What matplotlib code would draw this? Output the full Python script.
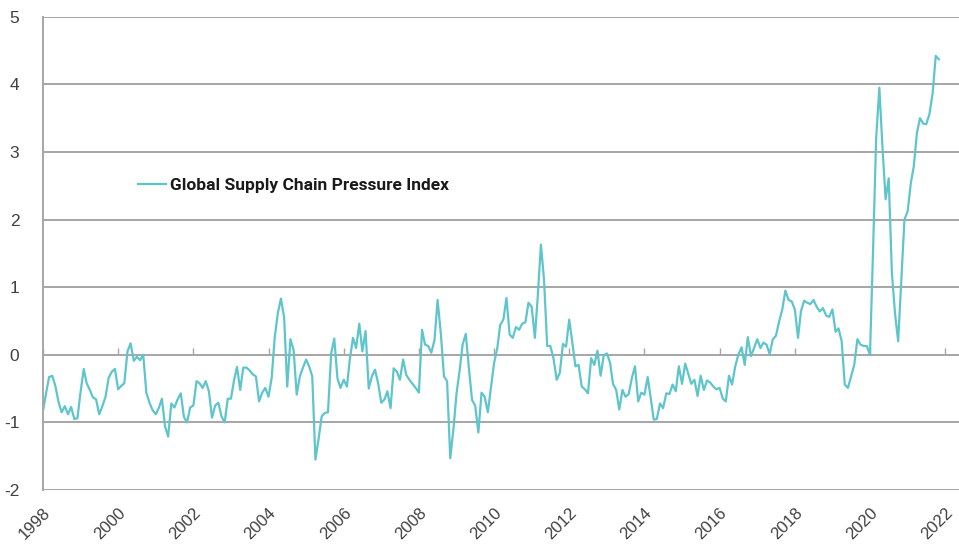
import matplotlib
matplotlib.use("Agg")
import matplotlib.pyplot as plt
import matplotlib.transforms as mtransforms
import pandas as pd

plt.rcParams["axes.unicode_minus"] = False

# monthly GSCPI readings, Jan 1998 .. Nov 2021
gscpi = [
    -0.83, -0.56, -0.33, -0.31, -0.46, -0.70, -0.85, -0.76, -0.88, -0.77, -0.95, -0.94,  # 1998
    -0.55, -0.21, -0.42, -0.52, -0.63, -0.66, -0.88, -0.76, -0.62, -0.34, -0.25, -0.21,  # 1999
    -0.51, -0.46, -0.42, 0.05, 0.17, -0.09, -0.03, -0.08, 0.00, -0.56, -0.71, -0.82,     # 2000
    -0.88, -0.78, -0.65, -1.06, -1.21, -0.72, -0.78, -0.66, -0.57, -0.92, -1.00, -0.78,  # 2001
    -0.75, -0.39, -0.42, -0.49, -0.39, -0.54, -0.93, -0.75, -0.71, -0.91, -1.00, -0.65,  # 2002
    -0.65, -0.37, -0.18, -0.52, -0.19, -0.19, -0.23, -0.29, -0.32, -0.69, -0.56, -0.49,  # 2003
    -0.62, -0.34, 0.25, 0.62, 0.83, 0.55, -0.47, 0.23, 0.07, -0.59, -0.32, -0.19,        # 2004
    -0.07, -0.18, -0.32, -1.55, -1.25, -0.91, -0.86, -0.85, 0.02, 0.24, -0.35, -0.49,    # 2005
    -0.37, -0.47, -0.07, 0.25, 0.10, 0.46, 0.05, 0.35, -0.50, -0.32, -0.22, -0.42,       # 2006
    -0.71, -0.66, -0.54, -0.79, -0.20, -0.25, -0.37, -0.07, -0.30, -0.37, -0.43, -0.49,  # 2007
    -0.56, 0.37, 0.15, 0.13, 0.03, 0.22, 0.81, 0.32, -0.32, -0.39, -1.53, -1.11,         # 2008
    -0.57, -0.22, 0.15, 0.31, -0.20, -0.67, -0.75, -1.15, -0.56, -0.62, -0.85, -0.49,    # 2009
    -0.12, 0.10, 0.44, 0.52, 0.84, 0.30, 0.25, 0.41, 0.37, 0.46, 0.48, 0.77,             # 2010
    0.71, 0.25, 0.86, 1.63, 1.11, 0.13, 0.13, -0.05, -0.37, -0.27, 0.16, 0.12,           # 2011
    0.52, 0.17, -0.17, -0.15, -0.47, -0.51, -0.57, -0.05, -0.15, 0.06, -0.31, -0.01,     # 2012
    0.02, -0.12, -0.43, -0.52, -0.81, -0.52, -0.62, -0.58, -0.34, -0.17, -0.69, -0.56,   # 2013
    -0.59, -0.33, -0.62, -0.96, -0.95, -0.72, -0.79, -0.57, -0.58, -0.44, -0.54, -0.17,  # 2014
    -0.43, -0.13, -0.27, -0.43, -0.37, -0.61, -0.31, -0.52, -0.38, -0.41, -0.47, -0.51,  # 2015
    -0.49, -0.65, -0.69, -0.31, -0.44, -0.17, 0.00, 0.11, -0.15, 0.26, -0.02, 0.10,      # 2016
    0.23, 0.10, 0.18, 0.15, 0.01, 0.23, 0.28, 0.49, 0.67, 0.95, 0.81, 0.79,              # 2017
    0.67, 0.25, 0.64, 0.80, 0.77, 0.75, 0.81, 0.71, 0.64, 0.69, 0.58, 0.56,              # 2018
    0.67, 0.34, 0.39, 0.20, -0.44, -0.49, -0.32, -0.15, 0.23, 0.15, 0.13, 0.13,          # 2019
    0.00, 1.60, 3.20, 3.95, 3.08, 2.30, 2.61, 1.21, 0.60, 0.20, 1.10, 2.00,              # 2020
    2.12, 2.54, 2.78, 3.28, 3.50, 3.42, 3.41, 3.56, 3.87, 4.42, 4.37,                    # 2021
]
dates = pd.date_range("1998-01-01", periods=len(gscpi), freq="MS")
year_ticks = pd.date_range("1998-01-01", "2022-01-01", freq="24MS")
year_labels = [str(d.year) for d in year_ticks]
series_name = "Global Supply Chain Pressure Index"

grid_c = "#a6a6a6"
line_c = "#5ec5cb"
text_c = "#404040"

fig = plt.figure(figsize=(9.59, 5.49), dpi=100)
ax = fig.add_axes([43 / 959, 1 - 490 / 549, 1 - 43 / 959, (490 - 16.7) / 549])

ax.plot(dates, gscpi, color=line_c, lw=1.6, label=series_name)

ax.set_ylim(-2, 5)
ax.set_xlim(pd.Timestamp("1998-01-01"), pd.Timestamp("2022-05-15"))
ax.set_yticks(range(-2, 6))
ax.yaxis.grid(True, color=grid_c, lw=1.4)
ax.set_axisbelow(True)
for s in ["top", "right", "bottom"]:
    ax.spines[s].set_visible(False)
ax.spines["left"].set_color(grid_c)
ax.spines["left"].set_linewidth(1.4)

ax.set_xticks(year_ticks)
ax.set_xticklabels(year_labels, rotation=45, ha="right", va="center",
                   rotation_mode="anchor", fontsize=12, color=text_c,
                   family="Liberation Sans")
ax.tick_params(axis="x", length=0, pad=15)
ax.tick_params(axis="y", length=0, pad=17, labelsize=12.5, labelcolor=text_c)
for t in ax.get_yticklabels():
    t.set_family("Liberation Sans")
# nudge the slanted year labels a little to the right
shift = mtransforms.ScaledTranslation(5 / 100, 0, fig.dpi_scale_trans)
for t in ax.get_xticklabels():
    t.set_transform(t.get_transform() + shift)

# small tick marks sitting on the zero line
sec = ax.secondary_xaxis(2 / 7)
sec.set_xticks(year_ticks)
sec.set_xticklabels([])
sec.tick_params(direction="in", length=5, width=1, color=grid_c)
sec.spines["bottom"].set_visible(False)

leg = ax.legend(loc="center left", bbox_to_anchor=(0.1037, 0.644), frameon=False,
                borderpad=0, borderaxespad=0, handlelength=1.6, handletextpad=0.25,
                prop={"family": ["Liberation Sans Narrow", "Roboto"], "weight": "bold", "size": 12.5})
for t in leg.get_texts():
    t.set_color("#1a1a1a")

fig.savefig("out.png", dpi=100)
